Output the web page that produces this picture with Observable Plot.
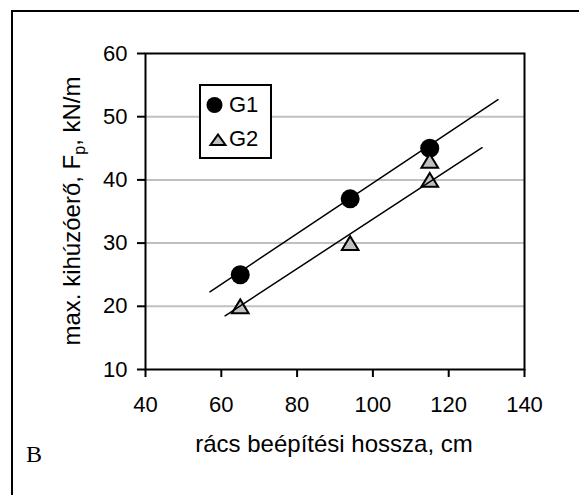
<!DOCTYPE html>
<html><head><meta charset="utf-8">
<script src="https://cdn.jsdelivr.net/npm/d3@7"></script>
<script src="https://cdn.jsdelivr.net/npm/@observablehq/plot@0.6"></script>
<style>
html,body{margin:0;padding:0;background:#fff;overflow:hidden;width:579px;height:495px}
#wrap{position:relative;width:579px;height:495px;overflow:hidden}
#border{position:absolute;left:11px;top:10px;width:620px;height:600px;border:2px solid #000;box-sizing:border-box}
#chart{position:absolute;left:0;top:0}
</style></head><body>
<div id="wrap"><div id="border"></div><div id="chart"></div></div>
<script>
// ---- data ----
const xTicks = [40, 60, 80, 100, 120, 140];
const yTicks = [10, 20, 30, 40, 50, 60];
const gridValues = [20, 30, 40, 50];
const g1X = [65, 94, 115];
const g1Y = [25, 37, 45];
const g2X = [65, 94, 115, 115];
const g2Y = [20, 30, 40, 43];
const g1TrendX = [57, 133];
const g1TrendY = [22.3, 52.7];
const g2TrendX = [61, 128.8];
const g2TrendY = [18.5, 45.1];
const seriesNames = ["G1", "G2"];
const xTitle = "rács beépítési hossza, cm";
const yTitleParts = ["max. kihúzóerő, F", "p", ", kN/m"];
const panelLabel = "B";

const font = "'Liberation Sans', Arial, Helvetica, sans-serif";

// centered triangle symbol (bounding box centered on the point)
const triSymbol = {
  draw(ctx, size) {
    const k = Math.sqrt(size);
    const w = k * 0.725, h = k * 0.6;
    ctx.moveTo(0, -h); ctx.lineTo(w, h); ctx.lineTo(-w, h); ctx.closePath();
  }
};

const g1 = g1X.map((x, i) => ({x, y: g1Y[i]}));
const g2 = g2X.map((x, i) => ({x, y: g2Y[i]}));
const t1 = g1TrendX.map((x, i) => ({x, y: g1TrendY[i]}));
const t2 = g2TrendX.map((x, i) => ({x, y: g2TrendY[i]}));

const svg = Plot.plot({
  width: 579, height: 495,
  marginLeft: 145, marginRight: 55, marginTop: 53, marginBottom: 126,
  style: {background: "transparent", fontFamily: font, color: "#000"},
  x: {domain: [40, 140]},
  y: {domain: [10, 60]},
  marks: [
    Plot.gridY(gridValues, {stroke: "#c0c0c0", strokeOpacity: 1, strokeWidth: 2}),
    Plot.frame({stroke: "#000", strokeWidth: 2}),
    Plot.axisX(xTicks, {tickSize: 8, tickPadding: 19, fontSize: 22, strokeWidth: 2, label: null, tickFormat: d => String(d)}),
    Plot.axisY(yTicks, {tickSize: 8, tickPadding: 10, fontSize: 22, strokeWidth: 2, label: null, tickFormat: d => String(d)}),
    Plot.dot(g1, {x: "x", y: "y", r: 9.5, fill: "#000", stroke: "none"}),
    Plot.dot(g2, {x: "x", y: "y", r: 6.5, symbol: triSymbol, fill: "#c0c0c0", stroke: "#000", strokeWidth: 2}),
    Plot.line(t1, {x: "x", y: "y", stroke: "#000", strokeWidth: 1.5}),
    Plot.line(t2, {x: "x", y: "y", stroke: "#000", strokeWidth: 1.5})
  ]
});
document.getElementById("chart").appendChild(svg);

const s = d3.select(svg);
// x title
s.append("text").attr("x", 334).attr("y", 452).attr("text-anchor", "middle")
  .attr("font-family", font).attr("font-size", 24).attr("fill", "#000").text(xTitle);
// y title with subscript
const yt = s.append("text").attr("transform", "translate(80,211) rotate(-90)")
  .attr("text-anchor", "middle").attr("font-family", font).attr("font-size", 24).attr("fill", "#000");
yt.append("tspan").text(yTitleParts[0]);
yt.append("tspan").attr("font-size", 16).attr("dy", 5).text(yTitleParts[1]);
yt.append("tspan").attr("dy", -5).text(yTitleParts[2]);
// panel label
s.append("text").attr("x", 26).attr("y", 462).attr("text-anchor", "start")
  .attr("font-family", "'Liberation Serif', 'Times New Roman', serif")
  .attr("font-size", 24).attr("fill", "#000").text(panelLabel);
// legend
const lg = s.append("g");
lg.append("rect").attr("x", 200).attr("y", 85).attr("width", 71).attr("height", 73)
  .attr("fill", "#fff").attr("stroke", "#000").attr("stroke-width", 2);
lg.append("circle").attr("cx", 214.5).attr("cy", 105).attr("r", 8).attr("fill", "#000");
lg.append("path").attr("d", "M218,134.5L225.5,145L210.5,145Z").attr("fill", "#c0c0c0")
  .attr("stroke", "#000").attr("stroke-width", 2);
lg.append("text").attr("x", 229).attr("y", 112).attr("text-anchor", "start")
  .attr("font-family", font).attr("font-size", 22).attr("fill", "#000").text(seriesNames[0]);
lg.append("text").attr("x", 229).attr("y", 146).attr("text-anchor", "start")
  .attr("font-family", font).attr("font-size", 22).attr("fill", "#000").text(seriesNames[1]);
</script>
</body></html>
